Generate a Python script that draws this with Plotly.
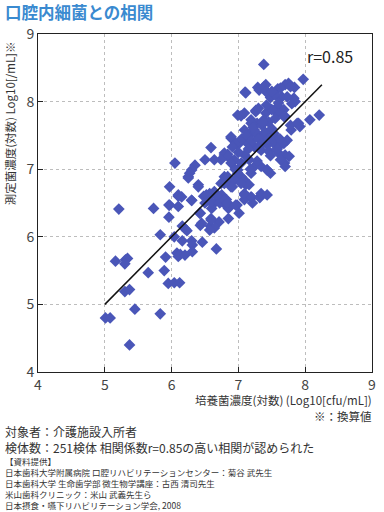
import plotly.graph_objects as go

# ---- data ----
culture_log = [
    5.21, 5.73, 5.96, 6.10, 5.96, 6.10, 6.30, 5.83, 6.04, 6.16, 6.20, 6.23,
    6.16, 6.30, 6.31, 6.31, 6.46, 6.67, 5.91, 6.08, 6.10, 6.13, 6.20, 5.16,
    5.31, 5.34, 5.30, 5.65, 5.89, 5.95, 6.04, 6.12, 5.30, 5.37, 5.45, 5.83,
    5.01, 5.08, 5.37,
    6.43, 6.43, 6.59, 6.71, 6.58, 6.85, 6.98, 7.09, 7.20, 7.21, 7.32, 7.09,
    6.85, 6.50, 6.55, 6.62, 6.70, 6.78, 6.48, 6.60, 6.75, 6.82,
    7.38, 7.97, 7.10, 7.29, 7.41, 7.42, 7.59, 7.70, 7.75, 7.84, 7.48, 7.65,
    7.83, 7.85, 7.80, 7.26, 6.99, 7.04, 7.41, 7.58, 7.65, 7.70, 8.07, 8.21,
    7.79, 7.88, 7.92, 7.19, 7.24, 7.09, 6.89, 6.99, 7.09, 6.59, 7.68, 7.70,
    7.76, 7.69, 7.70, 6.84, 6.79, 6.05, 6.50, 6.64, 6.35, 6.30, 6.25, 5.97,
    6.10, 5.97, 6.40, 6.94, 6.99, 7.04, 7.19, 7.43, 7.48, 7.11, 7.19, 7.32,
    6.79, 6.89,
    7.11, 7.31, 7.38, 7.41, 7.63, 7.78, 7.63, 7.73, 7.60, 7.68, 7.58, 7.09,
    7.26, 7.38, 7.28, 7.19, 7.68, 7.78, 7.90, 7.73,
    6.89, 6.96, 6.91, 7.19, 7.28, 7.38, 7.53, 7.14, 7.24, 7.34, 7.43, 7.53,
    7.46, 7.60, 7.63, 7.65, 6.79, 6.84, 6.74, 6.89, 7.09, 7.16, 7.04, 7.24,
    7.34, 7.43, 6.79, 6.89, 6.74, 6.99, 7.09, 7.16, 7.34, 7.43,
    6.27, 6.25, 6.40, 6.57, 6.52, 6.64, 6.69, 6.59, 6.72, 6.79, 6.30, 6.15,
    6.42, 6.45, 6.59, 6.64, 6.57, 6.84, 6.94, 7.04, 6.91, 7.09, 6.84, 6.96,
    7.01,
    7.05, 7.12, 7.20, 7.25, 7.30, 7.35, 7.40, 7.45, 7.50, 7.55, 7.15, 7.30,
    7.22, 7.35, 7.45, 7.55, 7.50, 7.42, 7.30, 7.60, 7.55, 7.50, 7.00, 6.95,
    7.18, 7.28, 7.48, 7.58, 7.62, 7.36,
]
measured_log = [
    6.41, 6.42, 6.47, 6.45, 6.29, 6.60, 6.54, 6.03, 6.00, 6.16, 6.12, 6.09,
    5.94, 5.94, 5.88, 5.78, 5.92, 5.82, 5.70, 5.76, 5.71, 5.74, 5.73, 5.64,
    5.66, 5.68, 5.60, 5.47, 5.50, 5.31, 5.32, 5.32, 5.19, 5.22, 4.93, 4.86,
    4.80, 4.80, 4.40,
    6.35, 6.17, 6.27, 6.22, 6.16, 6.27, 6.47, 6.62, 6.58, 6.50, 6.58, 6.55,
    6.42, 6.50, 6.58, 6.48, 6.55, 6.50, 6.60, 6.42, 6.62, 6.55,
    8.55, 8.33, 8.14, 8.21, 8.25, 8.15, 8.19, 8.25, 8.27, 8.21, 8.06, 8.07,
    8.05, 8.00, 7.97, 7.87, 7.80, 7.79, 7.83, 7.92, 7.85, 7.78, 7.73, 7.80,
    7.58, 7.68, 7.63, 7.73, 7.58, 7.58, 7.46, 7.36, 7.43, 7.32, 7.38, 7.21,
    7.19, 7.09, 7.04, 7.22, 7.21, 7.09, 7.14, 7.14, 7.06, 6.99, 6.89, 6.74,
    6.62, 6.47, 6.77, 7.14, 6.99, 6.89, 6.94, 6.99, 6.94, 6.77, 6.59, 6.59,
    6.79, 6.74,
    8.13, 8.17, 8.22, 8.15, 8.20, 8.22, 8.05, 8.07, 7.92, 7.88, 7.83, 7.83,
    7.85, 7.73, 7.68, 7.68, 7.78, 7.65, 7.68, 7.43,
    7.48, 7.38, 7.33, 7.53, 7.51, 7.48, 7.53, 7.38, 7.33, 7.28, 7.36, 7.38,
    7.26, 7.24, 7.14, 7.38, 7.24, 7.19, 7.14, 7.09, 7.21, 7.14, 7.09, 7.04,
    7.04, 6.99, 6.89, 6.84, 6.79, 6.94, 6.84, 6.77, 6.64, 6.62,
    6.94, 6.87, 6.74, 6.64, 6.62, 6.67, 6.59, 6.52, 6.50, 6.54, 6.54, 6.59,
    6.35, 6.20, 6.25, 6.13, 6.10, 6.89, 6.84, 6.79, 6.74, 6.64, 6.50, 6.47,
    6.35,
    7.45, 7.50, 7.42, 7.55, 7.45, 7.38, 7.55, 7.45, 7.60, 7.48, 7.30, 7.32,
    7.62, 7.65, 7.70, 7.75, 7.88, 7.95, 7.90, 7.98, 8.10, 8.15, 7.25, 7.00,
    7.00, 7.12, 7.20, 7.30, 7.45, 7.70,
]
fit_x = [5.0, 8.25]
fit_y = [5.0, 8.25]

x_ticks = [4, 5, 6, 7, 8, 9]
y_ticks = [4, 5, 6, 7, 8, 9]

title_text = "口腔内細菌との相関"
y_title = "測定菌濃度(対数) Log10[/mL]※"
x_title = "培養菌濃度(対数) (Log10[cfu/mL])"
note_text = "※：換算値"
r_text = "r=0.85"
footer_big = ["対象者：介護施設入所者",
              "検体数：251検体 相関係数r=0.85の高い相関が認められた"]
footer_small = ["【資料提供】",
                "日本歯科大学附属病院 口腔リハビリテーションセンター：菊谷 武先生",
                "日本歯科大学 生命歯学部 微生物学講座：古西 清司先生",
                "米山歯科クリニック：米山 武義先生ら",
                "日本摂食・嚥下リハビリテーション学会, 2008"]

FONT = "Noto Sans CJK JP"
W, H = 384, 512
L, R, T, B = 38, 8, 34, 140
PW, PH = W - L - R, H - T - B


def px(xp):
    return (xp - L) / PW


def py(yp):
    return (H - B - yp) / PH


fig = go.Figure()
fig.add_trace(go.Scatter(
    x=culture_log, y=measured_log, mode="markers",
    marker=dict(symbol="diamond", size=9, color="#4a56b8",
                line=dict(width=0)),
    showlegend=False, hoverinfo="x+y"))
fig.add_trace(go.Scatter(
    x=fit_x, y=fit_y, mode="lines",
    line=dict(color="#111111", width=1.5), showlegend=False))

axis_common = dict(
    range=[4, 9], showgrid=True, gridcolor="#bdbdbd", griddash="dot",
    gridwidth=1, showline=True, linecolor="#222222", linewidth=1,
    mirror=True, ticks="inside", ticklen=5, tickcolor="#222222",
    tickfont=dict(family=FONT, size=14, color="#444444"),
    zeroline=False)

fig.update_xaxes(tickvals=x_ticks, **axis_common)
fig.update_yaxes(tickvals=y_ticks, **axis_common)

ann = []
ann.append(dict(text="<b>" + title_text + "</b>", xref="paper", yref="paper",
                x=px(4), y=py(12), xanchor="left", yanchor="middle",
                showarrow=False, borderpad=0,
                font=dict(family=FONT, size=16.5, color="#3a8ad0")))
ann.append(dict(text=y_title, xref="paper", yref="paper",
                x=px(10), y=py(40), xanchor="center", yanchor="top",
                textangle=-90, showarrow=False, borderpad=0,
                font=dict(family=FONT, size=11.5, color="#333333")))
ann.append(dict(text=r_text, x=8.37, y=8.67, xref="x", yref="y",
                showarrow=False,
                font=dict(family=FONT, size=16, color="#222222")))
ann.append(dict(text=x_title, xref="paper", yref="paper",
                x=px(377), y=py(400), xanchor="right", yanchor="middle",
                showarrow=False, borderpad=0,
                font=dict(family=FONT, size=11.5, color="#333333")))
ann.append(dict(text=note_text, xref="paper", yref="paper",
                x=px(377), y=py(415.5), xanchor="right", yanchor="middle",
                showarrow=False, borderpad=0,
                font=dict(family=FONT, size=11.5, color="#333333")))
big_y = [431.5, 447.5]
for t, yy in zip(footer_big, big_y):
    ann.append(dict(text=t, xref="paper", yref="paper",
                    x=px(4), y=py(yy), xanchor="left", yanchor="middle",
                    showarrow=False, borderpad=0,
                    font=dict(family=FONT, size=12, color="#333333")))
small_y = [461, 472, 483, 494, 505]
for t, yy in zip(footer_small, small_y):
    ann.append(dict(text=t, xref="paper", yref="paper",
                    x=px(4), y=py(yy), xanchor="left", yanchor="middle",
                    showarrow=False, borderpad=0,
                    font=dict(family=FONT, size=8.5, color="#333333")))

fig.update_layout(
    width=W, height=H, autosize=False,
    margin=dict(l=L, r=R, t=T, b=B, pad=0),
    paper_bgcolor="white", plot_bgcolor="white",
    annotations=ann, showlegend=False,
    font=dict(family=FONT))

fig.write_html(
    "out.html",
    config={"displayModeBar": False},
    post_script="document.body.style.margin='0';document.body.style.padding='0';")
